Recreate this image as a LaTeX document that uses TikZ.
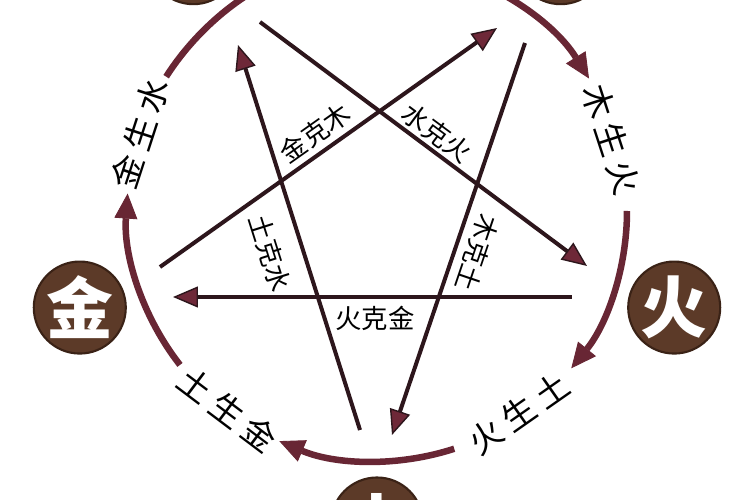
\documentclass[tikz,border=0pt]{standalone}
\usepackage{fontspec}
\newfontfamily\cjk{Noto Sans CJK SC}
\newfontfamily\cjkwide[LetterSpace=20]{Noto Sans CJK SC}
\usetikzlibrary{arrows.meta}
\definecolor{wxbrown}{RGB}{92,58,40}
\definecolor{wxdark}{RGB}{58,34,22}
\definecolor{shengred}{RGB}{104,38,52}
\definecolor{kedark}{RGB}{45,22,28}
\definecolor{kered}{RGB}{110,40,56}
\tikzset{
	element/.style={circle,fill=wxbrown,draw=wxdark,line width=1.2pt,minimum size=1.84cm,inner sep=0pt,text=white,font=\cjk\bfseries\fontsize{38}{38}\selectfont},
	sheng/.style={line width=0.13cm,color=shengred,-{Triangle[length=0.5cm,width=0.46cm,line width=0.5pt]}},
	ke/.style={line width=0.08cm,color=kedark,-{Triangle[length=0.5cm,width=0.42cm,line width=0.8pt,fill=kered]}},
	shenglabel/.style={font=\cjkwide\fontsize{19}{19}\selectfont,inner sep=0pt,text=black},
	kelabel/.style={font=\cjk\fontsize{15}{15}\selectfont,inner sep=0pt,text=black},
}
\begin{document}
\begin{tikzpicture}
	\useasboundingbox[fill=white] (-7.54,-5.78) rectangle (7.46,4.22);
	\coordinate (O) at (0,0);
	% Elements
	\node[element] (shui) at (126:6.25) {};
	\node[element] (mu) at (54:6.25) {};
	\node[element] (huo) at (-18:6.25) {火};
	\node[element] (tu) at (-90:6.25) {土};
	\node[element] (jin) at (198:6.25) {金};
	% Generating ring
	\draw[sheng] (147.5:5) arc[start angle=147.5,end angle=105,radius=5];
	\draw[sheng] (75:5) arc[start angle=75,end angle=32,radius=5];
	\draw[sheng] (0:5) arc[start angle=0,end angle=-39,radius=5];
	\draw[sheng] (-72:5) arc[start angle=-72,end angle=-113,radius=5];
	\draw[sheng] (218:5) arc[start angle=218,end angle=176,radius=5];
	\node[shenglabel,rotate=-72] (muhuo) at (17:4.9) {木生火};
	\node[shenglabel,rotate=35] (huotu) at (-55:4.95) {火生土};
	\node[shenglabel,rotate=-37] (tujin) at (-127:4.97) {土生金};
	\node[shenglabel,rotate=72] (jinshui) at (162:4.98) {金生水};
	% Controlling star
	\coordinate (jk-s) at (-4.34,-1.12);
	\coordinate (jk-e) at (2.40,3.66);
	\coordinate (sk-s) at (-2.34,3.78);
	\coordinate (sk-e) at (4.20,-1.10);
	\coordinate (mk-s) at (2.96,3.36);
	\coordinate (mk-e) at (0.30,-4.48);
	\coordinate (tk-s) at (-0.34,-4.38);
	\coordinate (tk-e) at (-2.78,3.32);
	\coordinate (hk-s) at (3.90,-1.72);
	\coordinate (hk-e) at (-4.08,-1.72);
	\draw[ke] (jk-s) -- (jk-e);
	\draw[ke] (sk-s) -- (sk-e);
	\draw[ke] (mk-s) -- (mk-e);
	\draw[ke] (tk-s) -- (tk-e);
	\draw[ke] (hk-s) -- (hk-e);
	\node[kelabel,rotate=35.3] (jinmu) at (-1.24,1.56) {金克木};
	\node[kelabel,rotate=-36.6] (shuihuo) at (1.20,1.56) {水克火};
	\node[kelabel,rotate=-108.7] (mutu) at (2.00,-0.84) {木克土};
	\node[kelabel,rotate=-72.4] (tushui) at (-2.14,-0.84) {土克水};
	\node[kelabel] (huojin) at (-0.04,-2.14) {火克金};
\end{tikzpicture}
\end{document}
